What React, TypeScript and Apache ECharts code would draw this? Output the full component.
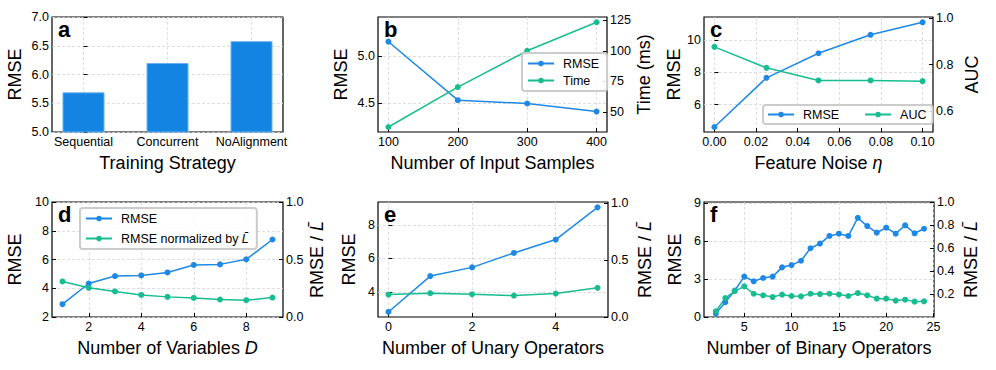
import React, { useEffect, useRef } from 'react';
import * as echarts from 'echarts';

const FONT = '"Liberation Sans", Arial, Helvetica, sans-serif';
const BLUE = '#1e88e5';
const GREEN = '#17bd91';
const BAR = '#1484e3';

// ---- data ----
const strategies = ['Sequential', 'Concurrent', 'NoAlignment'];
const strategyPos = [0, 1, 2];
const strategyRmse = [5.69, 6.2, 6.58];

const samples = [100, 200, 300, 400];
const samplesRmse = [5.15, 4.535, 4.5, 4.415];
const samplesTime = [37.6, 70.3, 100.0, 123.4];

const noise = [0, 0.025, 0.05, 0.075, 0.1];
const noiseRmse = [4.61, 7.65, 9.17, 10.31, 11.08];
const noiseAuc = [0.876, 0.786, 0.732, 0.732, 0.729];

const variables = [1, 2, 3, 4, 5, 6, 7, 8, 9];
const variablesRmse = [2.89, 4.33, 4.85, 4.89, 5.1, 5.62, 5.66, 6.01, 7.39];
const variablesNorm = [0.309, 0.254, 0.222, 0.192, 0.175, 0.166, 0.152, 0.146, 0.169];

const unary = [0, 1, 2, 3, 4, 5];
const unaryRmse = [2.8, 4.94, 5.46, 6.32, 7.12, 9.04];
const unaryNorm = [0.197, 0.209, 0.2, 0.188, 0.206, 0.256];

const binary = [2, 3, 4, 5, 6, 7, 8, 9, 10, 11, 12, 13, 14, 15, 16, 17, 18, 19, 20, 21, 22, 23, 24];
const binaryRmse = [0.27, 1.17, 2.09, 3.19, 2.82, 3.08, 3.19, 3.92, 4.1, 4.44, 5.43, 5.8, 6.4, 6.58, 6.4, 7.83, 7.18, 6.66, 7.05, 6.58, 7.24, 6.61, 6.97];
const binaryNorm = [0.05, 0.165, 0.226, 0.267, 0.203, 0.189, 0.174, 0.195, 0.183, 0.18, 0.203, 0.2, 0.203, 0.197, 0.183, 0.209, 0.189, 0.16, 0.16, 0.143, 0.151, 0.134, 0.137];

// tick values
const aYTicks = [5.0, 5.5, 6.0, 6.5, 7.0];
const bXTicks = [100, 200, 300, 400];
const bYTicks = [4.5, 5.0];
const bY2Ticks = [50, 75, 100, 125];
const cXTicks = [0, 0.02, 0.04, 0.06, 0.08, 0.1];
const cYTicks = [6, 8, 10];
const cY2Ticks = [0.6, 0.8, 1.0];
const dXTicks = [2, 4, 6, 8];
const dYTicks = [2, 4, 6, 8, 10];
const normTicks = [0, 0.5, 1.0];
const eXTicks = [0, 2, 4];
const eYTicks = [4, 6, 8];
const fXTicks = [5, 10, 15, 20, 25];
const fYTicks = [0, 3, 6, 9];
const fY2Ticks = [0.2, 0.4, 0.6, 0.8, 1.0];

const grids = [
  { left: 52, top: 17, width: 231, height: 115 },
  { left: 378, top: 17, width: 229, height: 115 },
  { left: 704, top: 17, width: 229, height: 115 },
  { left: 52, top: 202, width: 231, height: 115 },
  { left: 378, top: 202, width: 230, height: 115 },
  { left: 704, top: 202, width: 230, height: 115 },
];

const NAME_SIZE = 18;
const TICK_SIZE = 12.5;

const nameStyle = {
  fontSize: NAME_SIZE,
  color: '#000',
  fontFamily: FONT,
  rich: {
    i: { fontSize: NAME_SIZE, fontStyle: 'italic', fontFamily: FONT, color: '#000' },
  },
};

const splitLine = { show: true, lineStyle: { type: [3, 2], color: '#d6d6d6', width: 0.8 } };

function xAx(gridIndex: number, min: number, max: number, values: number[], name: string, fmt: (v: number) => string) {
  return {
    type: 'value',
    gridIndex,
    min,
    max,
    position: 'bottom',
    name,
    nameLocation: 'middle',
    nameGap: 22,
    nameTextStyle: { ...nameStyle, verticalAlign: 'top' },
    axisLine: { show: false },
    axisTick: { show: true, inside: true, length: 4, customValues: values, lineStyle: { color: '#000', width: 1 } },
    axisLabel: { customValues: values, formatter: fmt, fontSize: TICK_SIZE, color: '#000', fontFamily: FONT, margin: 3 },
    splitLine: { ...splitLine },
  };
}

function yAx(gridIndex: number, min: number, max: number, values: number[], name: string, fmt: (v: number) => string, right: boolean, nameGap: number) {
  return {
    type: 'value',
    gridIndex,
    min,
    max,
    position: right ? 'right' : 'left',
    name,
    nameLocation: 'middle',
    nameGap,
    nameTextStyle: { ...nameStyle },
    axisLine: { show: false },
    axisTick: { show: true, inside: true, length: 4, customValues: values, lineStyle: { color: '#000', width: 1 } },
    axisLabel: { customValues: values, formatter: fmt, fontSize: TICK_SIZE, color: '#000', fontFamily: FONT, margin: 3 },
    splitLine: right ? { show: false } : { ...splitLine },
  };
}

const f0 = (v: number) => String(Math.round(v * 1000) / 1000);
const f1 = (v: number) => v.toFixed(1);
const f2 = (v: number) => v.toFixed(2);

function lineSeries(name: string, xs: number[], ys: number[], color: string, xi: number, yi: number) {
  return {
    type: 'line',
    name,
    xAxisIndex: xi,
    yAxisIndex: yi,
    data: xs.map((x, i) => [x, ys[i]]),
    symbol: 'circle',
    symbolSize: 6,
    showSymbol: true,
    lineStyle: { color, width: 1.5 },
    itemStyle: { color },
    clip: false,
  };
}

const legendBase = {
  itemWidth: 26,
  itemHeight: 7,
  backgroundColor: 'rgba(255,255,255,0.85)',
  borderColor: '#cccccc',
  borderWidth: 2,
  borderRadius: 3,
  selectedMode: false,
  textStyle: {
    fontSize: 12.5,
    fontFamily: FONT,
    color: '#000',
    padding: [0, 0, 0, 4],
    rich: { i: { fontSize: 12.5, fontFamily: FONT, fontStyle: 'italic', color: '#000' } },
  },
};

const NORM = 'RMSE normalized by L\u0304';

export default function App() {
  const ref = useRef<HTMLDivElement>(null);
  useEffect(() => {
    document.body.style.margin = '0';
    if (!ref.current) return;
    const chart = echarts.init(ref.current, undefined, { renderer: 'svg' });
    const letters = ['a', 'b', 'c', 'd', 'e', 'f'];
    const option: any = {
      animation: false,
      grid: grids.map((g) => ({ ...g, show: true, borderColor: '#000', borderWidth: 1.2, backgroundColor: 'transparent', containLabel: false })),
      xAxis: [
        xAx(0, -0.375, 2.375, strategyPos, 'Training Strategy', (v: number) => strategies[Math.round(v)]),
        xAx(1, 85, 415, bXTicks, 'Number of Input Samples', f0),
        xAx(2, -0.005, 0.105, cXTicks, 'Feature Noise {i|\u03b7}', f2),
        xAx(3, 0.6, 9.4, dXTicks, 'Number of Variables {i|D}', f0),
        xAx(4, -0.25, 5.25, eXTicks, 'Number of Unary Operators', f0),
        xAx(5, 0.75, 25.05, fXTicks, 'Number of Binary Operators', f0),
      ],
      yAxis: [
        yAx(0, 5.0, 7.0, aYTicks, 'RMSE', f1, false, 28),
        yAx(1, 4.2, 5.41, bYTicks, 'RMSE', f1, false, 28),
        yAx(1, 33.5, 127.7, bY2Ticks, 'Time (ms)', f0, true, 22),
        yAx(2, 4.3, 11.41, cYTicks, 'RMSE', f0, false, 18),
        yAx(2, 0.511, 1.004, cY2Ticks, 'AUC', f1, true, 30),
        yAx(3, 2, 10, dYTicks, 'RMSE', f0, false, 28),
        yAx(3, 0, 1, normTicks, 'RMSE / {i|L\u0304}', f1, true, 25),
        yAx(4, 2.5, 9.36, eYTicks, 'RMSE', f0, false, 20),
        yAx(4, 0, 1.01, normTicks, 'RMSE / {i|L\u0304}', f1, true, 28),
        yAx(5, 0, 9.08, fYTicks, 'RMSE', f0, false, 20),
        yAx(5, 0, 1.003, fY2Ticks, 'RMSE / {i|L\u0304}', f1, true, 28),
      ],
      legend: [
        {
          ...legendBase,
          data: ['RMSE', 'Time'],
          orient: 'vertical',
          left: 522,
          top: 53,
          itemGap: 4,
          padding: [4, 8, 4, 5],
        },
        {
          ...legendBase,
          data: ['RMSE', 'AUC'],
          orient: 'horizontal',
          left: 763,
          top: 105,
          itemGap: 25,
          padding: [3, 6, 3, 4],
        },
        {
          ...legendBase,
          data: ['RMSE', NORM],
          orient: 'vertical',
          left: 80,
          top: 208,
          itemGap: 7,
          padding: [4, 8, 4, 5],
          formatter: (n: string) => (n === NORM ? 'RMSE normalized by {i|L\u0304}' : n),
        },
      ],
      graphic: letters.map((l, i) => ({
        type: 'text',
        left: grids[i].left + 6,
        top: grids[i].top + 1,
        z: 100,
        style: { text: l, fontSize: 22, fontWeight: 'bold', fontFamily: FONT, fill: '#000' },
      })),
      series: [
        {
          type: 'bar',
          name: 'Strategy',
          xAxisIndex: 0,
          yAxisIndex: 0,
          barWidth: 42,
          data: strategyPos.map((x, i) => [x, strategyRmse[i]]),
          itemStyle: { color: BAR, borderColor: '#6bb2f0', borderWidth: 1 },
        },
        lineSeries('RMSE', samples, samplesRmse, BLUE, 1, 1),
        lineSeries('Time', samples, samplesTime, GREEN, 1, 2),
        lineSeries('RMSE', noise, noiseRmse, BLUE, 2, 3),
        lineSeries('AUC', noise, noiseAuc, GREEN, 2, 4),
        lineSeries('RMSE', variables, variablesRmse, BLUE, 3, 5),
        lineSeries(NORM, variables, variablesNorm, GREEN, 3, 6),
        lineSeries('RMSE', unary, unaryRmse, BLUE, 4, 7),
        lineSeries(NORM, unary, unaryNorm, GREEN, 4, 8),
        lineSeries('RMSE', binary, binaryRmse, BLUE, 5, 9),
        lineSeries(NORM, binary, binaryNorm, GREEN, 5, 10),
      ],
    };
    chart.setOption(option);
    return () => chart.dispose();
  }, []);
  return <div ref={ref} style={{ width: 996, height: 370 }} />;
}
